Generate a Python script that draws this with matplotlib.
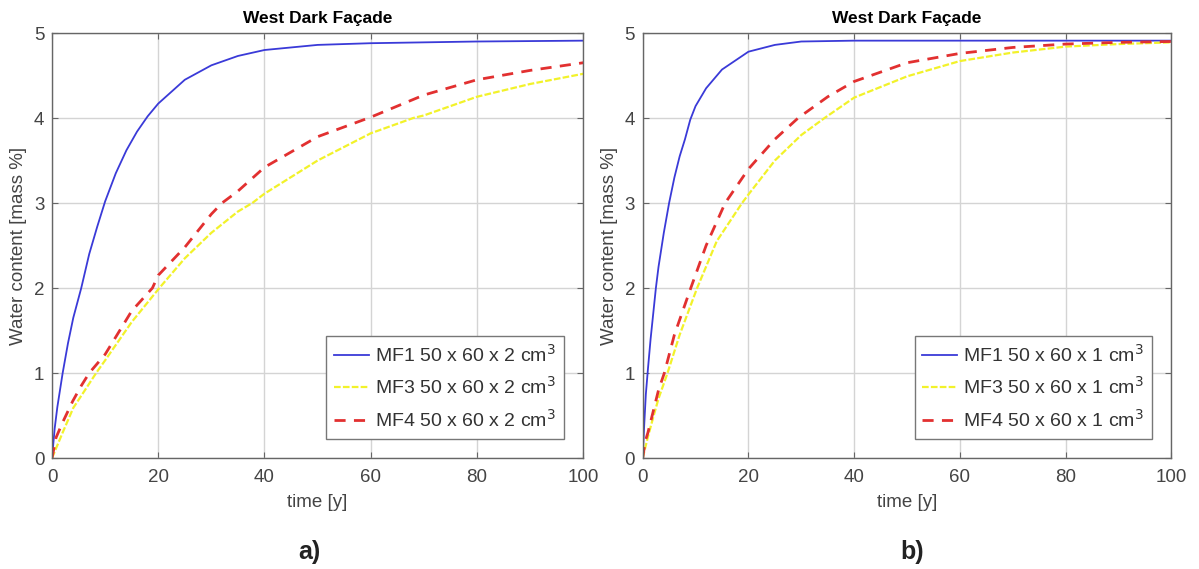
import numpy as np
import matplotlib
matplotlib.use('Agg')
import matplotlib.pyplot as plt

plt.rcParams['font.family'] = ['Liberation Sans', 'DejaVu Sans']

# values, left panel (a): 2 cm
t_mf1_a = [0, 0.5, 1, 2, 3, 4, 5.5, 7, 8.5, 10, 12, 14, 16, 18, 20, 25, 30, 35, 40, 50, 60, 80, 100]
w_mf1_a = [0, 0.35, 0.6, 1.0, 1.35, 1.65, 2.0, 2.4, 2.72, 3.02, 3.35, 3.62, 3.84, 4.02, 4.17, 4.45, 4.62, 4.73, 4.8, 4.86, 4.88, 4.9, 4.91]

t_mf3_a = [0, 2, 4, 6, 8.3, 10, 15, 20.2, 25, 30, 35, 37.7, 40, 50, 60, 68, 70, 80, 90, 100]
w_mf3_a = [0, 0.3, 0.59, 0.78, 1.0, 1.15, 1.6, 2.0, 2.35, 2.65, 2.9, 3.0, 3.11, 3.5, 3.82, 4.0, 4.03, 4.25, 4.4, 4.52]

t_mf4_a = [0, 0.75, 2, 3.9, 5.5, 7, 10, 15, 18.9, 20, 25, 30, 32, 35, 40, 50, 60, 70, 80, 90, 100]
w_mf4_a = [0, 0.24, 0.42, 0.67, 0.85, 1.0, 1.22, 1.73, 2.0, 2.15, 2.48, 2.87, 3.0, 3.14, 3.42, 3.78, 4.01, 4.27, 4.45, 4.56, 4.65]

# right panel (b): 1 cm
t_mf1_b = [0, 0.3, 0.6, 1, 1.5, 2, 2.5, 3, 4, 5, 6, 7, 8, 9, 10, 12, 15, 20, 25, 30, 40, 60, 80, 100]
w_mf1_b = [0, 0.4, 0.75, 1.05, 1.4, 1.7, 2.0, 2.25, 2.65, 3.0, 3.3, 3.55, 3.75, 3.98, 4.14, 4.35, 4.57, 4.78, 4.86, 4.9, 4.91, 4.91, 4.91, 4.91]

t_mf3_b = [0, 1, 2, 3, 4.7, 7, 10.3, 14, 18.8, 20, 25, 30, 34.4, 40, 50, 60, 70, 80, 90, 100]
w_mf3_b = [0, 0.25, 0.48, 0.7, 1.0, 1.45, 2.0, 2.55, 3.0, 3.1, 3.5, 3.8, 4.0, 4.24, 4.49, 4.67, 4.77, 4.84, 4.87, 4.89]

t_mf4_b = [0, 0.5, 1, 2, 3, 4.1, 6, 9.1, 12, 15.6, 20, 25, 29.4, 35, 40, 50, 60, 70, 80, 90, 100]
w_mf4_b = [0, 0.2, 0.3, 0.55, 0.8, 1.0, 1.45, 2.0, 2.5, 3.0, 3.4, 3.75, 4.0, 4.25, 4.43, 4.65, 4.76, 4.83, 4.87, 4.89, 4.9]

labels_a = ['MF1 50 x 60 x 2 cm$^3$', 'MF3 50 x 60 x 2 cm$^3$', 'MF4 50 x 60 x 2 cm$^3$']
labels_b = ['MF1 50 x 60 x 1 cm$^3$', 'MF3 50 x 60 x 1 cm$^3$', 'MF4 50 x 60 x 1 cm$^3$']

fig = plt.figure(figsize=(11.99, 5.69), dpi=100)
ax_a = fig.add_axes([0.0434, 0.195, 0.443, 0.747])
ax_b = fig.add_axes([0.536, 0.195, 0.441, 0.747])

txt_col = '#444444'

def draw_panel(ax, t1, w1, t3, w3, t4, w4, labels):
    ax.plot(t1, w1, color='#3a3ad8', lw=1.3, label=labels[0])
    ax.plot(t3, w3, color='#f2f22a', lw=1.6, linestyle=(0, (3, 1)), label=labels[1])
    ax.plot(t4, w4, color='#e23030', lw=2.0, linestyle=(0, (4, 3)), label=labels[2])
    ax.set_xlim(0, 100)
    ax.set_ylim(0, 5)
    ax.set_xticks([0, 20, 40, 60, 80, 100])
    ax.set_yticks([0, 1, 2, 3, 4, 5])
    ax.grid(True, color='#d4d4d4', lw=1.0)
    ax.set_axisbelow(True)
    ax.tick_params(direction='in', top=True, right=True, length=4,
                   labelsize=13.5, labelcolor=txt_col, color='#666666')
    ax.tick_params(axis='x', pad=8)
    ax.tick_params(axis='y', pad=5.5)
    for s in ax.spines.values():
        s.set_color('#666666')
        s.set_linewidth(1.0)
    ax.set_title('West Dark Façade', fontsize=12.5, fontweight='bold', pad=7)
    ax.set_xlabel('time [y]', fontsize=13.5, color=txt_col, labelpad=6)
    ax.set_ylabel('Water content [mass %]', fontsize=13.5, color=txt_col, labelpad=5)
    leg = ax.legend(loc='lower right', fontsize=14, fancybox=False, framealpha=1,
                    edgecolor='#777777', handlelength=1.8, handletextpad=0.3,
                    borderpad=0.4, labelspacing=0.55, borderaxespad=1.0)
    for txt in leg.get_texts():
        txt.set_color('#333333')

draw_panel(ax_a, t_mf1_a, w_mf1_a, t_mf3_a, w_mf3_a, t_mf4_a, w_mf4_a, labels_a)
draw_panel(ax_b, t_mf1_b, w_mf1_b, t_mf3_b, w_mf3_b, t_mf4_b, w_mf4_b, labels_b)

fig.text(0.258, 0.03, 'a)', fontsize=18, fontweight='bold', ha='center', va='center', color='#222222')
fig.text(0.761, 0.03, 'b)', fontsize=18, fontweight='bold', ha='center', va='center', color='#222222')

fig.savefig('out.png', dpi=100)
